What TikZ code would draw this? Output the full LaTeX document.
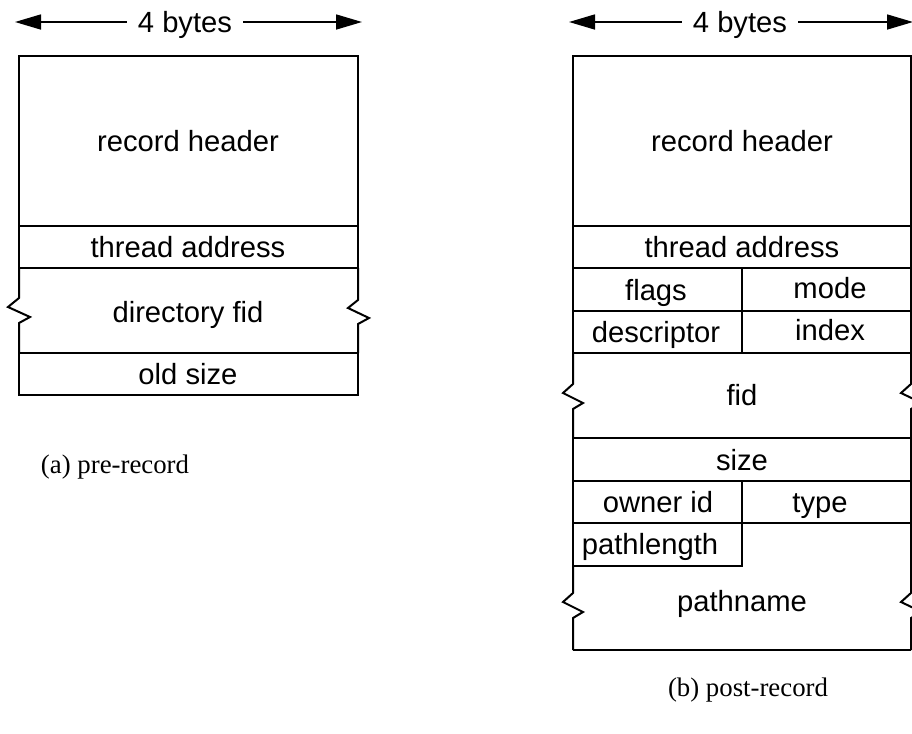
\documentclass[tikz,border=0pt]{standalone}
\usepackage{fontspec}
\setmainfont{Liberation Sans}
\newfontfamily\capfont{Liberation Serif}
\usetikzlibrary{arrows.meta}
\begin{document}
\begin{tikzpicture}[x=0.5pt,y=-0.5pt,line width=1pt,line join=miter,
  lbl/.style={font=\fontsize{14.6}{17}\selectfont,inner sep=0pt,text height=0.72em,text depth=0.21em,yshift=-2.8pt},
  dimlbl/.style={lbl,inner xsep=5pt},
  caption/.style={font=\capfont\fontsize{13.4}{16}\selectfont,inner sep=0pt},
  dimarrow/.style={line width=0.8pt,-{Triangle[length=13pt,width=7.5pt]}}]
\useasboundingbox (0,0) rectangle (912,734);

% ---------------- (a) pre-record ----------------
\node[dimlbl] (wa) at (185,22) {4 bytes};
\coordinate (wal) at (15,22);
\coordinate (war) at (362,22);
\draw[dimarrow] (wa.west |- wal) -- (wal);
\draw[dimarrow] (wa.east |- war) -- (war);

\draw (19,56) rectangle (358,226);
\draw (19,226) rectangle (358,268);
\draw (19,268) -- (19,298) -- (8,307) -- (30,317) -- (19,323) -- (19,353);
\draw (358,268) -- (358,300) -- (348,308) -- (369,318) -- (358,324) -- (358,353);
\draw (19,353) rectangle (358,395);

\node[lbl] (ahdr) at (188,141) {record header};
\node[lbl] (athr) at (188,247) {thread address};
\node[lbl] (adir) at (188,312) {directory fid};
\node[lbl] (aold) at (188,374) {old size};

\node[caption] (capa) at (115,467) {(a) pre-record};

% ---------------- (b) post-record ----------------
\node[dimlbl] (wb) at (740,22) {4 bytes};
\coordinate (wbl) at (569,22);
\coordinate (wbr) at (913,22);
\draw[dimarrow] (wb.west |- wbl) -- (wbl);
\draw[dimarrow] (wb.east |- wbr) -- (wbr);

\draw (573,56) rectangle (911,226);
\draw (573,226) rectangle (911,268);
\draw (573,268) rectangle (911,311);
\draw (573,311) rectangle (911,353);
\draw (742,268) -- (742,353);
\draw (573,353) -- (573,384) -- (563,393) -- (583,403) -- (573,409) -- (573,438);
\draw (911,353) -- (911,384) -- (901,393) -- (922,403) -- (911,409) -- (911,438);
\draw (573,438) rectangle (911,481);
\draw (573,481) rectangle (911,523);
\draw (742,481) -- (742,523);
\draw (573,523) rectangle (742,566);
\draw (573,566) -- (573,593) -- (563,602) -- (583,612) -- (573,618) -- (573,650);
\draw (911,523) -- (911,593) -- (901,602) -- (922,612) -- (911,618) -- (911,650);
\draw (573,650) -- (911,650);

\node[lbl] (bhdr) at (742,141) {record header};
\node[lbl] (bthr) at (742,247) {thread address};
\node[lbl] (bflg) at (656,290) {flags};
\node[lbl] (bmod) at (830,288) {mode};
\node[lbl] (bdsc) at (656,332) {descriptor};
\node[lbl] (bidx) at (830,330) {index};
\node[lbl] (bfid) at (742,395) {fid};
\node[lbl] (bsiz) at (742,460) {size};
\node[lbl] (bown) at (658,502) {owner id};
\node[lbl] (btyp) at (820,502) {type};
\node[lbl] (blen) at (650,544) {pathlength};
\node[lbl] (bnam) at (742,601) {pathname};

\node[caption] (capb) at (748,690) {(b) post-record};
\end{tikzpicture}
\end{document}
